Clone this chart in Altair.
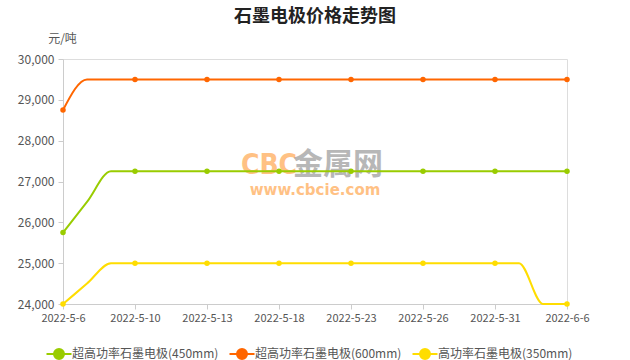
import altair as alt
import pandas as pd

dates = ["2022-5-6", "2022-5-7", "2022-5-9", "2022-5-10", "2022-5-11", "2022-5-12",
         "2022-5-13", "2022-5-16", "2022-5-17", "2022-5-18", "2022-5-19", "2022-5-20",
         "2022-5-23", "2022-5-24", "2022-5-25", "2022-5-26", "2022-5-27", "2022-5-30",
         "2022-5-31", "2022-6-1", "2022-6-2", "2022-6-6"]
shown_dates = ["2022-5-6", "2022-5-10", "2022-5-13", "2022-5-18", "2022-5-23",
               "2022-5-26", "2022-5-31", "2022-6-6"]

series_names = ["超高功率石墨电极(450mm)", "超高功率石墨电极(600mm)", "高功率石墨电极(350mm)"]
series_colors = ["#99cc00", "#ff6600", "#ffdd00"]

uhp450 = [25750, 26500] + [27250] * 20
uhp600 = [28750] + [29500] * 21
hp350 = [24000, 24500] + [25000] * 18 + [24000, 24000]

y_ticks = [24000, 25000, 26000, 27000, 28000, 29000, 30000]
watermark = ["CBC", "金属网", "www.cbcie.com"]

rows = []
for name, vals in zip(series_names, [uhp450, uhp600, hp350]):
    for i, (d, v) in enumerate(zip(dates, vals)):
        rows.append({"date": d, "idx": i, "series": name, "price": v})
df = pd.DataFrame(rows)

FONT = "Noto Sans CJK SC"

x_enc = alt.X("date:N", sort=dates,
              scale=alt.Scale(type="point", padding=0),
              axis=alt.Axis(values=shown_dates, title=None, labelAngle=0,
                            domainColor="#cccccc", tickColor="#cccccc", tickSize=5,
                            labelColor="#555555", labelFontSize=11, labelFont=FONT,
                            labelPadding=3, grid=False))
y_enc = alt.Y("price:Q",
              scale=alt.Scale(domain=[24000, 30000], nice=False, zero=False),
              axis=alt.Axis(values=y_ticks, format=",.0f", title="元/吨",
                            titleAngle=0, titleX=-1, titleY=-21, titleAlign="center",
                            titleBaseline="middle", titleFontWeight="normal",
                            titleFontSize=12, titleColor="#555555", titleFont=FONT,
                            domainColor="#cccccc", tickColor="#cccccc", tickSize=5,
                            labelColor="#555555", labelFontSize=12, labelFont=FONT,
                            labelPadding=4, grid=False))
color_scale = alt.Scale(domain=series_names, range=series_colors)

legend_path = "M-2.5,0L-1,0M1,0L2.5,0M-1,0A1,1,0,1,0,1,0A1,1,0,1,0,-1,0Z"
leg = alt.Legend(
    title=None, orient="none", direction="horizontal",
    legendX=-10, legendY=289,
    symbolType=legend_path, symbolSize=100,
    symbolStrokeWidth=2, symbolOpacity=1,
    labelOffset=7, columnPadding=6,
    labelFont=FONT, labelFontSize=12, labelColor="#555555")

line = alt.Chart(df).mark_line(strokeWidth=2, interpolate="monotone").encode(
    x=x_enc, y=y_enc,
    color=alt.Color("series:N", scale=color_scale, legend=leg),
)
points = alt.Chart(df).transform_filter("datum.idx % 3 == 0").mark_point(
    filled=True, size=30, opacity=1).encode(
    x=x_enc, y=y_enc,
    color=alt.Color("series:N", scale=color_scale, legend=leg),
)

wm_df = pd.DataFrame({"t": watermark})
wm1 = alt.Chart(wm_df.iloc[[0]]).mark_text(
    font="DejaVu Sans Condensed, Liberation Sans", fontWeight="bold", fontSize=28,
    color="#ff9933", opacity=0.6, baseline="middle").encode(
    text="t:N", x=alt.value(206), y=alt.value(107))
wm2 = alt.Chart(wm_df.iloc[[1]]).mark_text(
    font=FONT, fontWeight="bold", fontSize=30, color="#888888",
    opacity=0.6, baseline="middle").encode(
    text="t:N", x=alt.value(275), y=alt.value(106))
wm3 = alt.Chart(wm_df.iloc[[2]]).mark_text(
    font="DejaVu Sans", fontWeight="bold", fontSize=15, color="#ff9933",
    opacity=0.6, baseline="middle").encode(
    text="t:N", x=alt.value(252), y=alt.value(131))

chart = alt.layer(wm1, wm2, wm3, line, points).properties(
    width=504, height=245,
    autosize=alt.AutoSizeParams(type="none"),
    padding={"left": 63, "top": 59, "right": 63, "bottom": 56},
    title=alt.TitleParams("石墨电极价格走势图", font=FONT, fontSize=18,
                          fontWeight="bold", color="#222222", anchor="middle",
                          frame="group", offset=6),
).configure_view(stroke=None).configure(background="white")

chart.save("out.html", embed_options={"renderer": "svg", "actions": False})
